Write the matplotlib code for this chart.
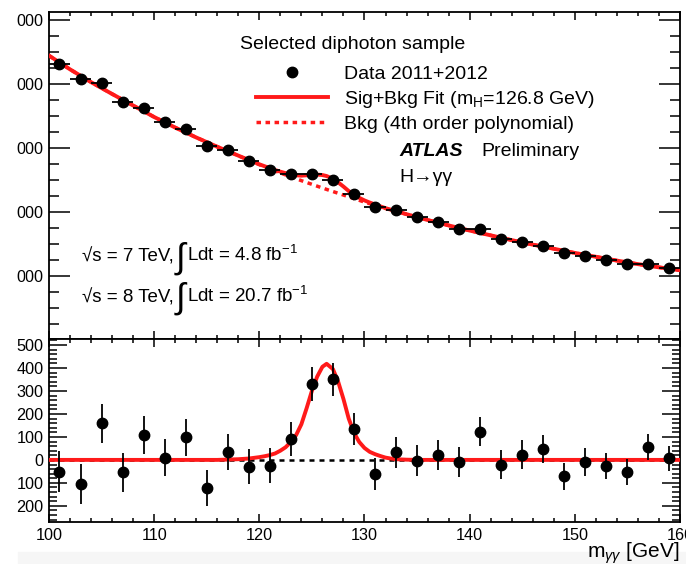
import numpy as np
import matplotlib.pyplot as plt
from matplotlib.lines import Line2D
from matplotlib.patches import Rectangle
from matplotlib.ticker import MultipleLocator

plt.rcParams['font.family'] = ['Liberation Sans', 'DejaVu Sans']
plt.rcParams['mathtext.fontset'] = 'custom'
plt.rcParams['mathtext.rm'] = 'Liberation Sans'
plt.rcParams['mathtext.it'] = 'Liberation Sans:italic'
plt.rcParams['mathtext.bf'] = 'Liberation Sans:bold'

# bin centres (2 GeV bins)
mass = [101, 103, 105, 107, 109, 111, 113, 115, 117, 119,
        121, 123, 125, 127, 129, 131, 133, 135, 137, 139,
        141, 143, 145, 147, 149, 151, 153, 155, 157, 159]
# events per bin (top panel)
events = [10625, 10156, 10031, 9448, 9260, 8802, 8583, 8063, 7927, 7583,
          7313, 7188, 7188, 6990, 6550, 6146, 6063, 5833, 5677, 5479,
          5458, 5167, 5052, 4938, 4708, 4635, 4500, 4365, 4365, 4240]
# data - background (bottom panel)
resid = [-51, -103, 159, -54, 107, 10, 99, -123, 33, -29,
         -26, 93, 329, 351, 135, -62, 33, -3, 20, -10,
         123, -22, 23, 49, -72, -9, -26, -52, 55, 7]
errors = [88, 87, 86, 84, 83, 82, 81, 79, 78, 77,
          76, 74, 73, 72, 70, 69, 68, 67, 66, 65,
          64, 63, 62, 61, 60, 59, 58, 57, 56, 55]

# background polynomial
bkg_m = [100, 102, 104, 106, 108, 110, 112, 114, 116, 118, 120, 122, 124, 126, 128,
         130, 132, 134, 136, 138, 140, 142, 144, 146, 148, 150, 152, 154, 156, 158, 160]
bkg = [10890, 10460, 10060, 9690, 9330, 8970, 8640, 8330, 8040, 7760, 7480, 7220, 6980, 6750, 6530,
       6310, 6110, 5930, 5750, 5580, 5420, 5270, 5120, 4980, 4850, 4720, 4600, 4480, 4370, 4270, 4180]

# signal component
sig_m = [100, 116, 118, 119, 119.5, 120, 120.5, 121, 121.5, 122, 122.5, 123, 123.5, 124, 124.5,
         125, 125.5, 126, 126.4, 127, 127.5, 128, 128.5, 129, 129.5, 130, 130.5, 131, 131.5,
         132, 132.5, 133, 134, 135, 160]
sig = [0, 0, 3, 6, 9, 12, 16, 21, 28, 40, 55, 78, 108, 155, 225,
       300, 362, 405, 418, 395, 340, 265, 180, 118, 78, 52, 35, 25, 17,
       10, 6, 3, 1, 0, 0]

top_yticks = [4000, 6000, 8000, 10000, 12000]
top_ylabels = ['000', '000', '000', '000', '000']
bot_yticks = [-200, -100, 0, 100, 200, 300, 400, 500]
bot_ylabels = ['200', '100', '0', '100', '200', '300', '400', '500']

red = '#ff1a1a'
fs = 14

fig = plt.figure(figsize=(6.86, 5.64), dpi=100)
# faint grey strip along the bottom of the screenshot
fig.patches.append(Rectangle((0.026, 0), 0.974, 0.022, transform=fig.transFigure,
                             color='#f6f6f6', zorder=0))
ax1 = fig.add_axes([0.0714, 0.399, 0.9198, 0.579])
ax2 = fig.add_axes([0.0714, 0.0745, 0.9198, 0.3245])

# ---- top panel
fit_m = np.union1d(bkg_m, sig_m)
fit = np.interp(fit_m, bkg_m, bkg) + np.interp(fit_m, sig_m, sig)
ax1.plot(bkg_m, bkg, color=red, lw=2.5, ls=(0, (1.3, 1.3)), zorder=2)
ax1.plot(fit_m, fit, color=red, lw=2.8, zorder=3)
ax1.errorbar(mass, events, xerr=1, yerr=errors, fmt='o', color='black',
             ms=7.5, elinewidth=1.3, capsize=0, zorder=4)
ax1.set_xlim(100, 160)
ax1.set_ylim(2030, 12240)
ax1.set_yticks(top_yticks)
ax1.set_yticklabels(top_ylabels)
ax1.yaxis.set_minor_locator(MultipleLocator(500))
ax1.xaxis.set_major_locator(MultipleLocator(10))
ax1.xaxis.set_minor_locator(MultipleLocator(2))
ax1.tick_params(axis='x', labelbottom=False)

ax1.text(0.303, 0.903, 'Selected diphoton sample', transform=ax1.transAxes,
         fontsize=fs, va='center')
handles = [Line2D([], [], ls='none', marker='o', color='black', ms=7.5),
           Line2D([], [], color=red, lw=2.8),
           Line2D([], [], color=red, lw=2.5, ls=(0, (1.3, 1.3)))]
labels = ['Data 2011+2012', r'Sig+Bkg Fit (m$_{\mathrm{H}}$=126.8 GeV)',
          'Bkg (4th order polynomial)']
ax1.legend(handles, labels, loc='upper left', bbox_to_anchor=(0.328, 0.838),
           frameon=False, fontsize=fs, handlelength=3.7, handletextpad=0.85,
           labelspacing=0.3, borderaxespad=0, borderpad=0)
ax1.text(0.556, 0.575, 'ATLAS', transform=ax1.transAxes, fontsize=fs,
         fontweight='bold', fontstyle='italic', va='center')
ax1.text(0.685, 0.575, 'Preliminary', transform=ax1.transAxes, fontsize=fs,
         va='center')
ax1.text(0.556, 0.493, 'H\u2192\u03b3\u03b3', transform=ax1.transAxes,
         fontsize=fs, va='center')

lumi = [('7', '4.8', 0.25), ('8', '20.7', 0.125)]
for sqs, lum, ypos in lumi:
    t1 = ax1.text(0.052, ypos, '\u221as = %s TeV,' % sqs,
                  transform=ax1.transAxes, fontsize=13.5, va='center')
    t2 = ax1.annotate(r'$\int$', xy=(1, 0.45), xycoords=t1, xytext=(0, 0),
                      textcoords='offset points', fontsize=25, va='center')
    ax1.annotate(r'Ldt = %s fb$^{\mathrm{-1}}$' % lum, xy=(1, 0.5), xycoords=t2,
                 xytext=(-1, 2), textcoords='offset points', fontsize=13.5, va='center')

# ---- bottom panel
ax2.axhline(0, color='black', lw=1.8, ls=(0, (2, 2)), zorder=2)
ax2.plot(sig_m, sig, color=red, lw=2.8, zorder=3)
ax2.errorbar(mass, resid, yerr=errors, fmt='o', color='black',
             ms=7.5, elinewidth=1.3, capsize=0, zorder=4)
ax2.set_xlim(100, 160)
ax2.set_ylim(-270, 526)
ax2.set_yticks(bot_yticks)
ax2.set_yticklabels(bot_ylabels)
ax2.yaxis.set_minor_locator(MultipleLocator(20))
ax2.xaxis.set_major_locator(MultipleLocator(10))
ax2.xaxis.set_minor_locator(MultipleLocator(2))

for ax, ymaj, ymin in ((ax1, 15, 7.5), (ax2, 13, 5.5)):
    ax.tick_params(which='both', direction='in', top=True, right=True,
                   labelsize=11.7, width=1.1, pad=4)
    ax.tick_params(axis='y', which='major', length=ymaj)
    ax.tick_params(axis='y', which='minor', length=ymin)
    ax.tick_params(axis='x', which='major', length=5.5)
    ax.tick_params(axis='x', which='minor', length=2.8)
    for s in ax.spines.values():
        s.set_linewidth(1.3)

fig.text(0.991, 1 - 541 / 564, r'm$_{\gamma\gamma}$ [GeV]', ha='right', va='top',
         fontsize=15)

fig.savefig('out.png', dpi=100)
